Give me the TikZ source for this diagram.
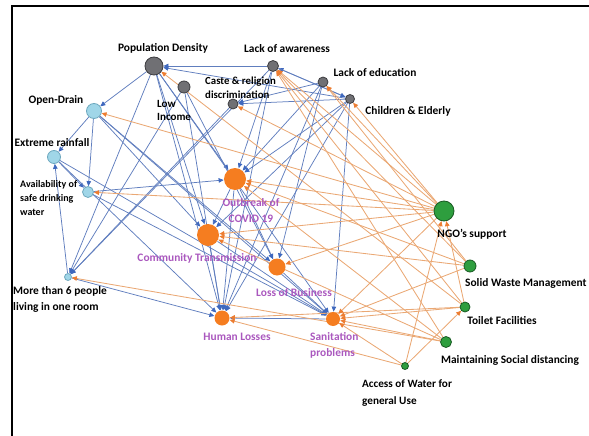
\documentclass[tikz,border=0pt]{standalone}
\usepackage{fontspec}
\setmainfont{Carlito}
\usetikzlibrary{arrows.meta,backgrounds}

\definecolor{grayfill}{RGB}{112,112,116}
\definecolor{graydraw}{RGB}{60,60,64}
\definecolor{skyfill}{RGB}{160,214,232}
\definecolor{skydraw}{RGB}{110,168,190}
\definecolor{hotfill}{RGB}{245,125,32}
\definecolor{leaffill}{RGB}{46,158,62}
\definecolor{leafdraw}{RGB}{25,90,35}
\definecolor{blueline}{RGB}{96,126,190}
\definecolor{bluetip}{RGB}{62,104,190}
\definecolor{orangeline}{RGB}{234,168,116}
\definecolor{orangetip}{RGB}{237,125,49}
\definecolor{labpurple}{RGB}{170,88,190}

\tikzset{
  dot/.style={circle, inner sep=0pt, line width=0.8pt},
  graydot/.style={dot, fill=grayfill, draw=graydraw},
  skydot/.style={dot, fill=skyfill, draw=skydraw},
  hotdot/.style={dot, fill=hotfill},
  leafdot/.style={dot, fill=leaffill, draw=leafdraw},
  lab/.style={inner sep=0pt, font=\bfseries\fontsize{11.4}{16}\selectfont, text=black},
  smalllab/.style={inner sep=0pt, font=\bfseries\fontsize{10}{14}\selectfont, text=black},
  plab/.style={inner sep=0pt, font=\bfseries\fontsize{11.4}{16}\selectfont, text=labpurple},
  bl/.style={draw=blueline, line width=0.75pt, -{Triangle[length=5pt,width=4.5pt,color=bluetip]}},
  ol/.style={draw=orangeline, line width=0.85pt, -{Triangle[length=5pt,width=4.5pt,color=orangetip]}},
}

\begin{document}
\begin{tikzpicture}[x=1pt,y=-1pt]
\useasboundingbox (0,0) rectangle (589,436);

% frame
\draw[line width=1.6pt, black] (12,436) -- (12,6) -- (589,6);

% nodes: social factors
\node[graydot, minimum size=18pt] (pd) at (154,66) {};
\node[graydot, minimum size=12pt] (li) at (184,87) {};
\node[graydot, minimum size=10pt] (cr) at (233,104) {};
\node[graydot, minimum size=11pt] (la) at (273,66) {};
\node[graydot, minimum size=10pt] (le) at (323,82) {};
\node[graydot, minimum size=9pt] (ce) at (350,99) {};
% nodes: environment
\node[skydot, minimum size=15pt] (od) at (94,111) {};
\node[skydot, minimum size=13pt] (er) at (54,157) {};
\node[skydot, minimum size=11pt] (sw) at (88,192) {};
\node[skydot, minimum size=7pt] (m6) at (68,277) {};
% nodes: outcomes
\node[hotdot, minimum size=22pt] (ob) at (235,179) {};
\node[hotdot, minimum size=22pt] (ct) at (208,235) {};
\node[hotdot, minimum size=17pt] (lb) at (277,267) {};
\node[hotdot, minimum size=15pt] (hl) at (222,318) {};
\node[hotdot, minimum size=14pt] (sp) at (333,319) {};
% nodes: interventions
\node[leafdot, minimum size=20pt] (ngo) at (444,211) {};
\node[leafdot, minimum size=12pt] (swm) at (470,266) {};
\node[leafdot, minimum size=10pt] (tf) at (465,307) {};
\node[leafdot, minimum size=11pt] (msd) at (446,342) {};
\node[leafdot, minimum size=7pt] (aw) at (405,366) {};

% labels
\node[lab] (pdL) at (163,48) {Population Density};
\node[lab] (laL) at (287,49) {Lack of awareness};
\node[lab] (leL) at (375,73) {Lack of education};
\node[lab] (ceL) at (408,111) {Children \& Elderly};
\node[smalllab, anchor=west, align=left, font=\bfseries\fontsize{10.8}{14}\selectfont] (crL) at (205,88) {Caste \& religion\\discrimination};
\node[lab, anchor=west, align=left, font=\bfseries\fontsize{11}{13}\selectfont] (liL) at (157,110) {Low\\Income};
\node[lab] (odL) at (56,100) {Open-Drain};
\node[lab] (erL) at (52,143) {Extreme rainfall};
\node[smalllab, anchor=west, align=left] (swL) at (20,198) {Availability of\\safe drinking\\water};
\node[lab, anchor=west, align=left] (m6L) at (13,299) {More than 6 people\\living in one room};
\node[plab, align=center] (obL) at (251,211) {Outbreak of\\COVID 19};
\node[plab] (ctL) at (197,258) {Community Transmission};
\node[plab] (lbL) at (294,293) {Loss of Business};
\node[plab] (hlL) at (237,337) {Human Losses};
\node[plab, anchor=west, align=left] (spL) at (310,345) {Sanitation\\problems};
\node[lab] (ngoL) at (472,234) {NGO's support};
\node[lab, anchor=west] (swmL) at (465,283) {Solid Waste Management};
\node[lab] (tfL) at (502,321) {Toilet Facilities};
\node[lab] (msdL) at (510,360) {Maintaining Social distancing};
\node[lab, anchor=west, align=left, font=\bfseries\fontsize{11.2}{17}\selectfont] (awL) at (362,393) {Access of Water for\\general Use};

\begin{scope}[on background layer]
% links among causes and outcomes
\draw[bl] (la) -- (pd);
\draw[bl] (ce) -- (pd);
\draw[bl] (ce) -- (cr);
\draw[bl] (le) -- (cr);
\draw[bl] (ce) -- (la);
\draw[bl] (la) -- (ce);
\draw[bl] (pd) -- (od);
\draw[bl] (od) -- (er);
\draw[bl] (er) -- (sw);
\draw[bl] (od) -- (sw);
\draw[bl] (m6) -- (er);
\draw[bl] (pd) -- (m6);
\draw[bl] (li) -- (m6);
\draw[bl] (cr) -- (m6);
\draw[bl] (la) -- (m6);
\draw[bl] (pd) -- (ob);
\draw[bl] (la) -- (ob);
\draw[bl] (ce) -- (ob);
\draw[bl] (le) -- (ob);
\draw[bl] (sw) -- (ob);
\draw[bl] (pd) -- (ct);
\draw[bl] (ob) -- (ct);
\draw[bl] (od) -- (ct);
\draw[bl] (ce) -- (ct);
\draw[bl] (li) -- (lb);
\draw[bl] (od) -- (lb);
\draw[bl] (ob) -- (lb);
\draw[bl] (le) -- (lb);
\draw[bl] (pd) -- (hl);
\draw[bl] (li) -- (hl);
\draw[bl] (ob) -- (hl);
\draw[bl] (ct) -- (hl);
\draw[bl] (er) -- (hl);
\draw[bl] (m6) -- (hl);
\draw[bl] (le) -- (hl);
\draw[bl] (ce) -- (hl);
\draw[bl] (la) -- (hl);
\draw[bl] (sp) -- (hl);
\draw[bl] (ce) -- (sp);
\draw[bl] (od) -- (sp);
\draw[bl] (lb) -- (sp);
\draw[bl] (ct) -- (sp);
\draw[bl] (sw) -- (sp);
\draw[bl] (pd) -- (sp);
\draw[bl] (er) -- (sp);
% links from interventions
\draw[ol] (ngo) -- (od);
\draw[ol] (ngo) -- (sw);
\draw[ol] (msd) -- (m6);
\draw[ol] (ngo) -- (cr);
\draw[ol] (ngo) -- (la);
\draw[ol] (swm) -- (la);
\draw[ol] (tf) -- (la);
\draw[ol] (msd) -- (la);
\draw[ol] (tf) -- (pd);
\draw[ol] (ngo) -- (le);
\draw[ol] (swm) -- (le);
\draw[ol] (ngo) -- (ce);
\draw[ol] (ngo) -- (ob);
\draw[ol] (swm) -- (ob);
\draw[ol] (msd) -- (ob);
\draw[ol] (ngo) -- (ct);
\draw[ol] (msd) -- (ct);
\draw[ol] (swm) -- (ct);
\draw[ol] (ngo) -- (lb);
\draw[ol] (aw) -- (hl);
\draw[ol] (tf) -- (hl);
\draw[ol] (ngo) -- (sp);
\draw[ol] (swm) -- (sp);
\draw[ol] (tf) -- (sp);
\draw[ol] (aw) -- (sp);
\draw[ol] (msd) -- (sp);
\draw[ol] (aw) -- (ngo);
\draw[ol] (tf) -- (ngo);
\draw[ol] (aw) -- (tf);
\end{scope}
\end{tikzpicture}
\end{document}
